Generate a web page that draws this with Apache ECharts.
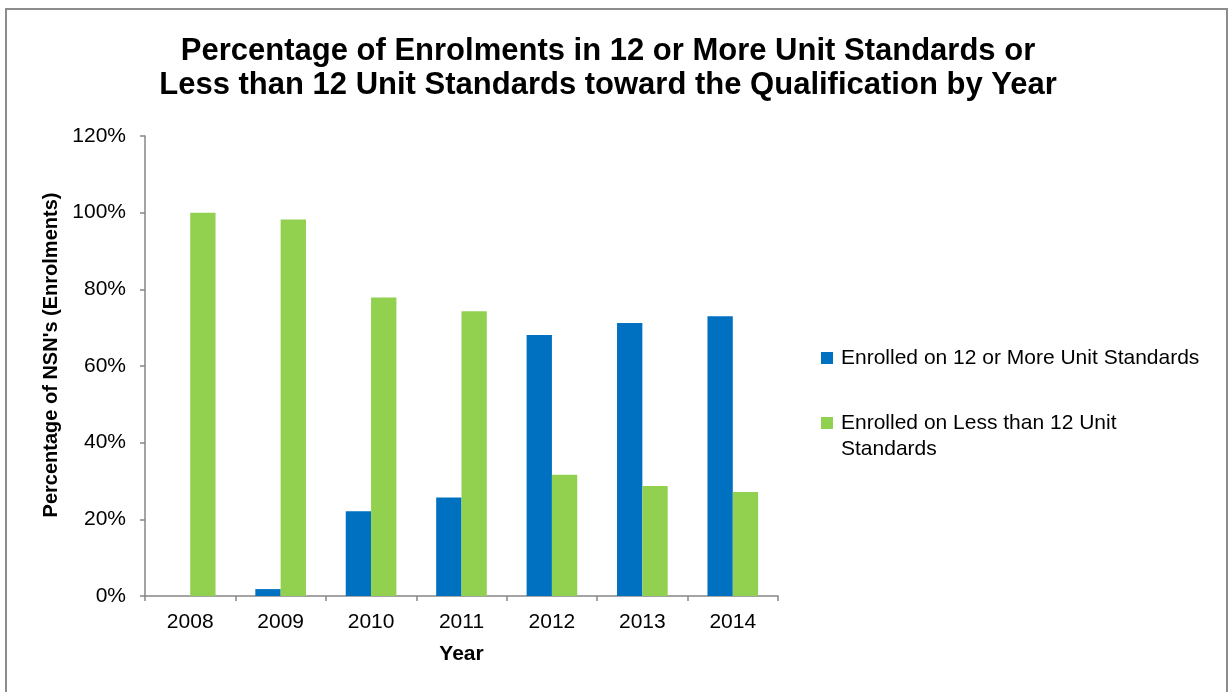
<!DOCTYPE html>
<html>
<head>
<meta charset="utf-8">
<script src="https://cdn.jsdelivr.net/npm/echarts@6/dist/echarts.min.js"></script>
<style>
  html, body { margin: 0; padding: 0; background: #fff; }
  #chart { width: 1232px; height: 692px; }
</style>
</head>
<body>
<div id="chart"></div>
<script>
// data
const years = ['2008', '2009', '2010', '2011', '2012', '2013', '2014']
const moreThan12 = [0, 1.8, 22.1, 25.7, 68.1, 71.2, 73.0]
const lessThan12 = [100, 98.2, 77.9, 74.3, 31.6, 28.7, 27.1]
const seriesNames = ['Enrolled on 12 or More Unit Standards', 'Enrolled on Less than 12 Unit Standards']

const font = 'Liberation Sans, Arial, sans-serif'
const chart = echarts.init(document.getElementById('chart'))

// shared legend look; second item wraps on two lines, icon kept on the first line
const legendBase = {
  orient: 'vertical',
  left: 821,
  padding: 0,
  itemWidth: 12,
  itemHeight: 12,
  itemGap: 0,
  icon: 'rect',
  textStyle: {fontFamily: font, fontSize: 21, color: '#000', lineHeight: 26, padding: [0, 0, 0, 3]}
}

chart.setOption({
  animation: false,
  color: ['#0070C0', '#92D050'],
  title: {
    text: 'Percentage of Enrolments in 12 or More Unit Standards or\nLess than 12 Unit Standards toward the Qualification by Year',
    left: 603,
    top: 29,
    textAlign: 'center',
    textStyle: {fontFamily: font, fontSize: 31, fontWeight: 'bold', color: '#000', lineHeight: 34}
  },
  grid: {left: 145, right: 454, top: 136, bottom: 96},
  legend: [
    {...legendBase, top: 345, data: [seriesNames[0]]},
    {
      ...legendBase,
      top: 384,
      data: [seriesNames[1]],
      // leading empty line keeps the icon level with the first text line
      formatter: () => '\nEnrolled on Less than 12 Unit\nStandards'
    }
  ],
  xAxis: {
    type: 'category',
    data: years,
    name: 'Year',
    nameLocation: 'middle',
    nameGap: 48,
    nameTextStyle: {fontFamily: font, fontSize: 21, fontWeight: 'bold', color: '#000'},
    axisLine: {lineStyle: {color: '#868686', width: 1.5}},
    axisTick: {show: true, length: 5, lineStyle: {color: '#868686', width: 1.5}},
    axisLabel: {fontFamily: font, fontSize: 21, color: '#000', margin: 16}
  },
  yAxis: {
    type: 'value',
    min: 0,
    max: 120,
    interval: 20,
    name: "Percentage of NSN's (Enrolments)",
    nameLocation: 'middle',
    nameGap: 80,
    nameTextStyle: {fontFamily: font, fontSize: 20, fontWeight: 'bold', color: '#000', padding: [0, 0, 0, 22]},
    axisLine: {show: true, lineStyle: {color: '#868686', width: 1.5}},
    axisTick: {show: true, length: 5, lineStyle: {color: '#868686', width: 1.5}},
    splitLine: {show: false},
    axisLabel: {fontFamily: font, fontSize: 21, color: '#000', margin: 19, formatter: '{value}%'}
  },
  series: [
    {name: seriesNames[0], type: 'bar', data: moreThan12, barGap: '0%', barCategoryGap: '44%'},
    {name: seriesNames[1], type: 'bar', data: lessThan12, barGap: '0%', barCategoryGap: '44%'}
  ],
  graphic: [{
    type: 'rect',
    shape: {x: 6, y: 9, width: 1221, height: 700},
    style: {fill: 'none', stroke: '#8c8c8c', lineWidth: 2},
    silent: true
  }]
})
</script>
</body>
</html>
